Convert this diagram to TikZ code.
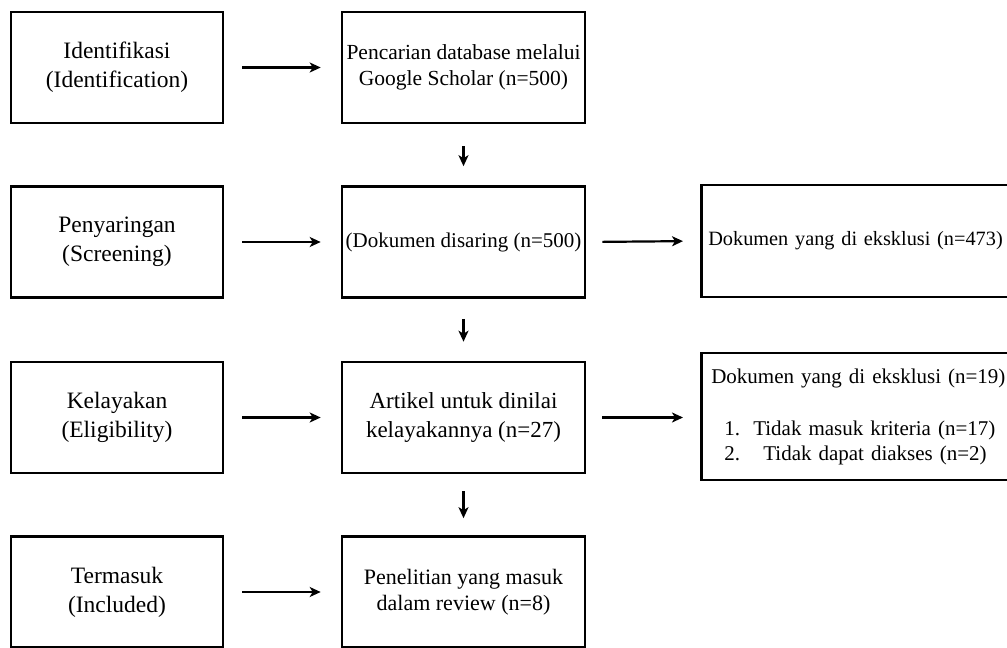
\documentclass[tikz,border=0pt]{standalone}
\usepackage{fontspec}
\setmainfont{Liberation Serif}
\usetikzlibrary{arrows.meta}
\tikzset{
  box/.style={draw=black, line width=2.6pt, rectangle, inner sep=0pt, align=center},
  leftbox/.style={box, minimum width=212pt, minimum height=111pt, font=\fontsize{23.5}{29}\selectfont},
  midbox/.style={box, minimum width=243pt, minimum height=111pt},
  rightbox/.style={box, anchor=west, align=left, text width=420pt, inner xsep=9pt, font=\fontsize{21}{25}\selectfont},
  arr/.style={-{Stealth[length=11pt,width=10pt,inset=3pt]}, line width=2.2pt},
}
\begin{document}
\begin{tikzpicture}[x=1pt,y=-1pt]
\useasboundingbox (0,0) rectangle (1007,648);
\clip (0,0) rectangle (1007,648);
% left column
\node[leftbox] (l1) at (117,67.5) {Identifikasi\\(Identification)};
\node[leftbox] (l2) at (117,242) {Penyaringan\\(Screening)};
\node[leftbox] (l3) at (117,417.5) {Kelayakan\\(Eligibility)};
\node[leftbox] (l4) at (117,592) {Termasuk\\(Included)};
% middle column
\node[midbox, font=\fontsize{21.5}{26}\selectfont] (m1) at (463.5,67.5) {Pencarian database melalui\\Google Scholar (n=500)};
\node[midbox, font=\fontsize{21}{25}\selectfont] (m2) at (463.5,242) {(Dokumen disaring (n=500)};
\node[midbox, font=\fontsize{23}{29}\selectfont] (m3) at (463.5,417.5) {Artikel untuk dinilai\\kelayakannya (n=27)};
\node[midbox, font=\fontsize{22}{25.5}\selectfont] (m4) at (463.5,592) {Penelitian yang masuk\\dalam review (n=8)};
% right column
\node[rightbox, minimum height=112pt, inner xsep=7pt, font=\fontsize{20.3}{25}\selectfont] (r2) at (700,241) {Dokumen yang di eksklusi (n=473)};
\node[rightbox, minimum height=127pt, inner xsep=10pt] (r3) at (700,416.5) {Dokumen yang di eksklusi (n=19)\\[27pt]
\hspace*{13pt}\makebox[29pt][l]{1.}Tidak masuk kriteria (n=17)\\
\hspace*{13pt}\makebox[39pt][l]{2.}Tidak dapat diakses (n=2)};
% horizontal arrows
\foreach \i in {1,2,3,4}{
  \draw[arr, shorten <=18pt, shorten >=20pt] (l\i.east) -- (m\i.west);
}
\draw[arr, shorten <=16pt, shorten >=17pt] (m2.east) -- (r2.west);
\draw[arr, shorten <=16pt, shorten >=17pt] (m3.east) -- (r3.west |- m3.east);
% vertical arrows
\draw[arr, shorten <=22pt, shorten >=19pt] (m1.south) -- (m2.north);
\draw[arr, shorten <=20pt, shorten >=19pt] (m2.south) -- (m3.north);
\draw[arr, shorten <=17pt, shorten >=17pt] (m3.south) -- (m4.north);
\end{tikzpicture}
\end{document}
